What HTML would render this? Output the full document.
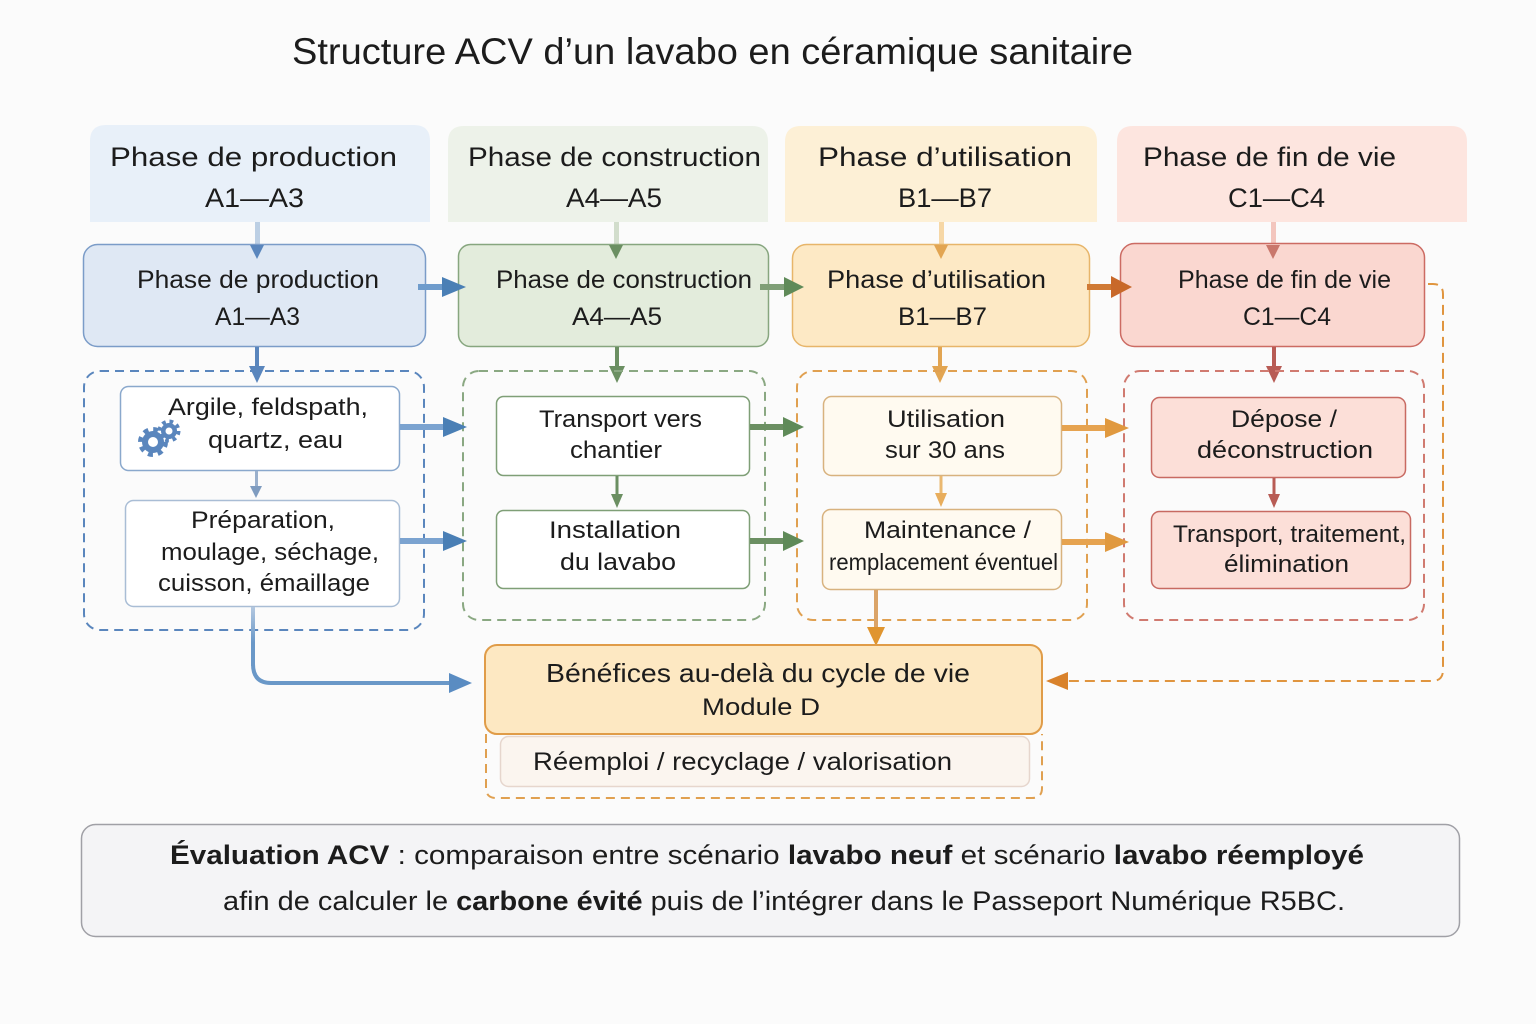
<!DOCTYPE html>
<html><head><meta charset="utf-8"><style>
html,body{margin:0;padding:0;background:#fbfbfb;}
svg{display:block;}
text{font-family:"Liberation Sans",sans-serif;fill:#1c1c1c;}
</style></head><body>
<svg width="1536" height="1024" viewBox="0 0 1536 1024" xmlns="http://www.w3.org/2000/svg">
<defs>
<linearGradient id="bl" x1="0" y1="0" x2="0" y2="1">
<stop offset="0" stop-color="#b3c8e0"/><stop offset="0.6" stop-color="#6a98c8"/><stop offset="1" stop-color="#6a98c8"/>
</linearGradient>
</defs>
<rect width="1536" height="1024" fill="#fbfbfb"/>

<!-- Title -->
<text x="292" y="64" font-size="37" textLength="841" lengthAdjust="spacingAndGlyphs">Structure ACV d’un lavabo en céramique sanitaire</text>

<!-- Header boxes -->
<path d="M90,222 V141 Q90,125 106,125 H414 Q430,125 430,141 V222 Z" fill="#e8f0f9"/>
<path d="M448,222 V142 Q448,126 464,126 H752 Q768,126 768,142 V222 Z" fill="#edf2e9"/>
<path d="M785,222 V142 Q785,126 801,126 H1081 Q1097,126 1097,142 V222 Z" fill="#fdf0d6"/>
<path d="M1117,222 V142 Q1117,126 1133,126 H1451 Q1467,126 1467,142 V222 Z" fill="#fde5df"/>

<text x="110" y="166" font-size="27" textLength="287" lengthAdjust="spacingAndGlyphs">Phase de production</text>
<text x="205" y="207" font-size="27" textLength="99" lengthAdjust="spacingAndGlyphs">A1—A3</text>
<text x="468" y="166" font-size="27" textLength="293" lengthAdjust="spacingAndGlyphs">Phase de construction</text>
<text x="566" y="207" font-size="27" textLength="96" lengthAdjust="spacingAndGlyphs">A4—A5</text>
<text x="818" y="166" font-size="27" textLength="254" lengthAdjust="spacingAndGlyphs">Phase d’utilisation</text>
<text x="898" y="207" font-size="27" textLength="94" lengthAdjust="spacingAndGlyphs">B1—B7</text>
<text x="1143" y="166" font-size="27" textLength="253" lengthAdjust="spacingAndGlyphs">Phase de fin de vie</text>
<text x="1228" y="207" font-size="27" textLength="97" lengthAdjust="spacingAndGlyphs">C1—C4</text>

<!-- header connector lines -->
<rect x="255" y="222" width="5" height="24" fill="#bccfe4"/>
<rect x="614" y="222" width="5" height="24" fill="#d2ddcc"/>
<rect x="939" y="222" width="5" height="24" fill="#f6d7a6"/>
<rect x="1271" y="222" width="5" height="24" fill="#f3c6be"/>

<!-- Main boxes -->
<rect x="83.5" y="244.5" width="342" height="102" rx="14" fill="#dfe8f4" stroke="#7b9cc8" stroke-width="1.5"/>
<rect x="458.5" y="244.5" width="310" height="102" rx="12" fill="#e3ecdc" stroke="#87a67f" stroke-width="1.5"/>
<rect x="792.5" y="244.5" width="297" height="102" rx="14" fill="#fde9c5" stroke="#e7b56a" stroke-width="1.5"/>
<rect x="1120.5" y="243.5" width="304" height="103" rx="14" fill="#fad7d0" stroke="#cc6b63" stroke-width="1.5"/>

<!-- header connector heads -->
<polygon points="250,245 264,245 257,259" fill="#5a86bd"/>
<polygon points="609,245 623,245 616,259" fill="#6b8f62"/>
<polygon points="934,245 948,245 941,259" fill="#e2a552"/>
<polygon points="1266,245 1280,245 1273,259" fill="#c9776c"/>

<text x="137" y="288" font-size="25" textLength="242" lengthAdjust="spacingAndGlyphs">Phase de production</text>
<text x="215" y="325" font-size="25" textLength="85" lengthAdjust="spacingAndGlyphs">A1—A3</text>
<text x="496" y="288" font-size="25" textLength="256" lengthAdjust="spacingAndGlyphs">Phase de construction</text>
<text x="572" y="325" font-size="25" textLength="90" lengthAdjust="spacingAndGlyphs">A4—A5</text>
<text x="827" y="288" font-size="25" textLength="219" lengthAdjust="spacingAndGlyphs">Phase d’utilisation</text>
<text x="898" y="325" font-size="25" textLength="89" lengthAdjust="spacingAndGlyphs">B1—B7</text>
<text x="1178" y="288" font-size="25" textLength="213" lengthAdjust="spacingAndGlyphs">Phase de fin de vie</text>
<text x="1243" y="325" font-size="25" textLength="88" lengthAdjust="spacingAndGlyphs">C1—C4</text>

<!-- main horizontal arrows -->
<rect x="418" y="284" width="26" height="6" fill="#6f9ccc"/>
<polygon points="442,277 466,287 442,297" fill="#4a7fb5"/>
<rect x="760" y="284" width="26" height="6" fill="#7f9f77"/>
<polygon points="784,277 804,287 784,297" fill="#5f8a58"/>
<rect x="1087" y="284" width="26" height="6" fill="#d07a35"/>
<polygon points="1111,276 1132,287 1111,298" fill="#c8692a"/>

<!-- main down arrows -->
<rect x="255" y="347" width="4" height="22" fill="#5a86bd"/>
<polygon points="249,366 265,366 257,383" fill="#5a86bd"/>
<rect x="615" y="347" width="4" height="22" fill="#6b8f62"/>
<polygon points="609,366 625,366 617,383" fill="#6b8f62"/>
<rect x="938" y="347" width="4" height="22" fill="#e2a552"/>
<polygon points="932,366 948,366 940,383" fill="#e2a552"/>
<rect x="1272" y="347" width="4" height="22" fill="#b85c55"/>
<polygon points="1266,366 1282,366 1274,383" fill="#b85c55"/>

<!-- dashed groups -->
<g fill="none" stroke-width="2" stroke-dasharray="9 6">
<rect x="84" y="371" width="340" height="259" rx="16" stroke="#5a86bd"/>
<rect x="463" y="371" width="302" height="249" rx="16" stroke="#8aa882"/>
<rect x="797" y="371" width="290" height="249" rx="16" stroke="#e0a050"/>
<rect x="1124" y="371" width="300" height="249" rx="16" stroke="#d07a70"/>
</g>

<!-- inner boxes -->
<rect x="120.5" y="386.5" width="279" height="84" rx="8" fill="#ffffff" stroke="#8aa8cc" stroke-width="1.5"/>
<rect x="125.5" y="500.5" width="274" height="106" rx="8" fill="#ffffff" stroke="#a9bdd5" stroke-width="1.5"/>
<rect x="496.5" y="396.5" width="253" height="79" rx="7" fill="#ffffff" stroke="#7f9f77" stroke-width="1.5"/>
<rect x="496.5" y="510.5" width="253" height="78" rx="7" fill="#ffffff" stroke="#7f9f77" stroke-width="1.5"/>
<rect x="823.5" y="396.5" width="238" height="79" rx="8" fill="#fffaf0" stroke="#d8b27e" stroke-width="1.5"/>
<rect x="822.5" y="509.5" width="239" height="80" rx="8" fill="#fffaf0" stroke="#d8b27e" stroke-width="1.5"/>
<rect x="1151.5" y="397.5" width="254" height="80" rx="8" fill="#fcdfd8" stroke="#c86a62" stroke-width="1.5"/>
<rect x="1151.5" y="511.5" width="259" height="77" rx="8" fill="#fcdfd8" stroke="#c86a62" stroke-width="1.5"/>

<!-- gear icon -->
<g>
<circle cx="169" cy="431" r="9" fill="none" stroke="#5a86bd" stroke-width="5" stroke-dasharray="3.5 3.6"/>
<circle cx="169" cy="431" r="8" fill="#5a86bd"/>
<circle cx="169" cy="431" r="3.5" fill="#ffffff"/>
<circle cx="153" cy="442" r="12" fill="none" stroke="#5a86bd" stroke-width="6" stroke-dasharray="4.7 4.7"/>
<circle cx="153" cy="442" r="11" fill="#5a86bd"/>
<circle cx="153" cy="442" r="5" fill="#ffffff"/>
</g>

<!-- inner text -->
<text x="168" y="415" font-size="24" textLength="200" lengthAdjust="spacingAndGlyphs">Argile, feldspath,</text>
<text x="208" y="448" font-size="24" textLength="135" lengthAdjust="spacingAndGlyphs">quartz, eau</text>
<text x="191" y="528" font-size="24" textLength="144" lengthAdjust="spacingAndGlyphs">Préparation,</text>
<text x="161" y="560" font-size="24" textLength="218" lengthAdjust="spacingAndGlyphs">moulage, séchage,</text>
<text x="158" y="591" font-size="24" textLength="212" lengthAdjust="spacingAndGlyphs">cuisson, émaillage</text>

<text x="539" y="427" font-size="24" textLength="163" lengthAdjust="spacingAndGlyphs">Transport vers</text>
<text x="570" y="458" font-size="24" textLength="92" lengthAdjust="spacingAndGlyphs">chantier</text>
<text x="549" y="538" font-size="24" textLength="132" lengthAdjust="spacingAndGlyphs">Installation</text>
<text x="560" y="570" font-size="24" textLength="116" lengthAdjust="spacingAndGlyphs">du lavabo</text>

<text x="887" y="427" font-size="24" textLength="118" lengthAdjust="spacingAndGlyphs">Utilisation</text>
<text x="885" y="458" font-size="24" textLength="120" lengthAdjust="spacingAndGlyphs">sur 30 ans</text>
<text x="864" y="538" font-size="24" textLength="167" lengthAdjust="spacingAndGlyphs">Maintenance /</text>
<text x="829" y="570" font-size="23" textLength="229" lengthAdjust="spacingAndGlyphs">remplacement éventuel</text>

<text x="1231" y="427" font-size="24" textLength="106" lengthAdjust="spacingAndGlyphs">Dépose /</text>
<text x="1197" y="458" font-size="24" textLength="176" lengthAdjust="spacingAndGlyphs">déconstruction</text>
<text x="1173" y="542" font-size="24" textLength="233" lengthAdjust="spacingAndGlyphs">Transport, traitement,</text>
<text x="1224" y="572" font-size="24" textLength="125" lengthAdjust="spacingAndGlyphs">élimination</text>

<!-- inner vertical small arrows -->
<rect x="255" y="471" width="3" height="16" fill="#9ab0cc"/>
<polygon points="250,486 262,486 256,498" fill="#7f9cc0"/>
<rect x="615.5" y="476" width="3" height="19" fill="#6b8f62"/>
<polygon points="611,494 623,494 617,508" fill="#6b8f62"/>
<rect x="939.5" y="476" width="3" height="18" fill="#eab871"/>
<polygon points="935,493 947,493 941,507" fill="#e8ad5c"/>
<rect x="1272.5" y="478" width="3" height="17" fill="#b85c55"/>
<polygon points="1268,494 1280,494 1274,508" fill="#b85c55"/>

<!-- inner horizontal arrows -->
<rect x="400" y="424" width="46" height="6" fill="#7ba3d0"/>
<polygon points="443,417 467,427 443,437" fill="#4a7fb5"/>
<rect x="400" y="538" width="46" height="6" fill="#7ba3d0"/>
<polygon points="443,531 467,541 443,551" fill="#4a7fb5"/>
<rect x="750" y="424" width="36" height="6" fill="#6b8f62"/>
<polygon points="783,417 804,427 783,437" fill="#5f8a58"/>
<rect x="750" y="538" width="36" height="6" fill="#6b8f62"/>
<polygon points="783,531 804,541 783,551" fill="#5f8a58"/>
<rect x="1062" y="425" width="46" height="6" fill="#e6a350"/>
<polygon points="1105,418 1129,428 1105,438" fill="#e0993f"/>
<rect x="1062" y="539" width="46" height="6" fill="#e6a350"/>
<polygon points="1105,532 1129,542 1105,552" fill="#e0993f"/>

<!-- curved blue arrow to module D -->
<rect x="251" y="607" width="4" height="59" fill="url(#bl)"/>
<path d="M253,664 Q253,683 271,683 H452" fill="none" stroke="#6a98c8" stroke-width="4"/>
<polygon points="449,673 472,683 449,693" fill="#5a8cc2"/>

<!-- yellow down arrow to module D -->
<rect x="874" y="590" width="4" height="40" fill="#dba468"/>
<polygon points="867,627 885,627 876,646" fill="#e0952f"/>

<!-- dashed orange loop -->
<path d="M1428,284 H1433 Q1443,284 1443,294 V670 Q1443,681 1432,681 H1066" fill="none" stroke="#e0953f" stroke-width="2" stroke-dasharray="10 6"/>
<polygon points="1068,672 1046,681 1068,690" fill="#d9822b"/>

<!-- module D -->
<path d="M486,734 V788 Q486,798 496,798 H1032 Q1042,798 1042,788 V734" fill="none" stroke="#e0a050" stroke-width="2" stroke-dasharray="9 6"/>
<rect x="500.5" y="736.5" width="529" height="50" rx="8" fill="#fbf5ef" stroke="#e6d6cd" stroke-width="1.5"/>
<rect x="485" y="645" width="557" height="89" rx="12" fill="#fde8c2" stroke="#e09c48" stroke-width="2"/>
<text x="546" y="682" font-size="26" textLength="424" lengthAdjust="spacingAndGlyphs">Bénéfices au-delà du cycle de vie</text>
<text x="702" y="715" font-size="24" textLength="118" lengthAdjust="spacingAndGlyphs">Module D</text>
<text x="533" y="770" font-size="25" textLength="419" lengthAdjust="spacingAndGlyphs">Réemploi / recyclage / valorisation</text>

<!-- bottom evaluation box -->
<rect x="81.5" y="824.5" width="1378" height="112" rx="14" fill="#f4f4f6" stroke="#a0a0a6" stroke-width="1.5"/>
<text x="170" y="864" font-size="27" textLength="1194" lengthAdjust="spacingAndGlyphs"><tspan font-weight="bold">Évaluation ACV</tspan> : comparaison entre scénario <tspan font-weight="bold">lavabo neuf</tspan> et scénario <tspan font-weight="bold">lavabo réemployé</tspan></text>
<text x="223" y="910" font-size="27" textLength="1122" lengthAdjust="spacingAndGlyphs">afin de calculer le <tspan font-weight="bold">carbone évité</tspan> puis de l’intégrer dans le Passeport Numérique R5BC.</text>
</svg>
</body></html>
